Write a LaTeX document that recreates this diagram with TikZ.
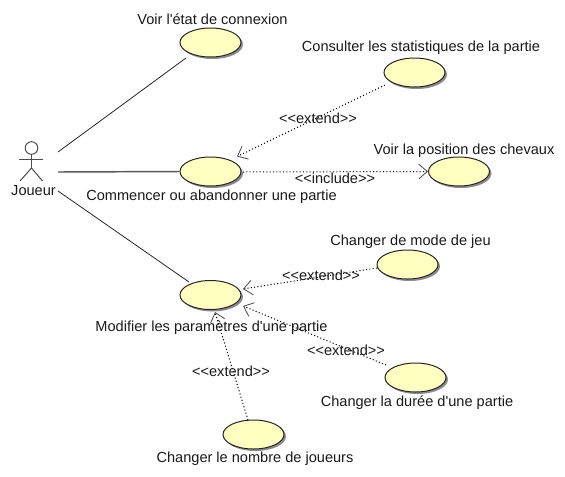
\documentclass[tikz,border=0pt]{standalone}
\usepackage{fontspec}
\setmainfont{Liberation Sans}[Ligatures=TeXOff]
\usetikzlibrary{shapes.geometric,arrows.meta,shadows}
\tikzset{
  usecase/.style={ellipse,draw=black!85,line width=0.75pt,fill=ucfill,inner sep=0pt,
    minimum width=45.75pt,minimum height=21.75pt,
    drop shadow={shadow xshift=1.5pt,shadow yshift=-1.5pt,opacity=0.75,fill=black!60}},
  lbl/.style={anchor=base,inner sep=0pt,font=\fontsize{10.93pt}{12pt}\selectfont,text=black!90},
  assoc/.style={draw=black!85,line width=0.6pt},
  dep/.style={draw=black,line width=0.75pt,dash pattern=on 0.8pt off 1.7pt,
    -{Straight Barb[length=6.5pt,width=11pt,line width=0.6pt,color=black!70]}},
  actorline/.style={draw=black!70,line width=0.75pt},
}
\definecolor{ucfill}{HTML}{FFFFC2}
\begin{document}
\begin{tikzpicture}[x=0.75pt,y=-0.75pt]
\useasboundingbox (0,0) rectangle (565,476);
% actor
\coordinate (actor) at (31.5,165);
\node[circle,draw=black!70,line width=0.75pt,fill=white,minimum size=9.5pt,inner sep=0pt] (head) at (31.5,148) {};
\coordinate (hand1) at (19,159);
\coordinate (hand2) at (43,159);
\coordinate (hip) at (31.5,168);
\coordinate (foot1) at (20,181);
\coordinate (foot2) at (42.5,181);
\draw[actorline] (head) -- (hip);
\draw[actorline] (hand1) -- (hand2);
\draw[actorline] (foot1) -- (hip) -- (foot2);
\node[lbl] (joueur) at (33.5,195) {Joueur};
% use cases
\node[usecase] (etat) at (210.5,42.5) {};
\node[usecase] (stats) at (414.5,72.5) {};
\node[usecase] (partie) at (210.5,171.5) {};
\node[usecase] (position) at (459,171.5) {};
\node[usecase] (param) at (210.5,295) {};
\node[usecase] (mode) at (407.5,264.5) {};
\node[usecase] (duree) at (415.5,377.5) {};
\node[usecase] (nombre) at (253.5,434.5) {};
% case labels
\node[lbl] (tetat) at (212.5,24) {Voir l'état de connexion};
\node[lbl] (tstats) at (421,51) {Consulter les statistiques de la partie};
\node[lbl] (tposition) at (464,154) {Voir la position des chevaux};
\node[lbl] (tpartie) at (211.5,200) {Commencer ou abandonner une partie};
\node[lbl] (tmode) at (410.5,245) {Changer de mode de jeu};
\node[lbl] (tparam) at (211.5,331) {Modifier les paramètres d'une partie};
\node[lbl] (tduree) at (417,406) {Changer la durée d'une partie};
\node[lbl] (tnombre) at (255,462) {Changer le nombre de joueurs};
% associations
\draw[assoc] ([shift={(26.5,-13)}]actor) -- ([shift={(-24.5,15.5)}]etat.center);
\draw[assoc,line width=1.1pt,draw=black!65] ([shift={(26.5,7)}]actor) -- (partie.west);
\draw[assoc] ([shift={(26.5,26)}]actor) -- ([shift={(-21.5,-13)}]param.center);
% dependencies
\draw[dep] ([shift={(-29.5,12.5)}]stats.center) -- ([shift={(26.5,-15)}]partie.center);
\draw[dep] ([shift={(32.5,0.5)}]partie.center) -- (position.west);
\draw[dep] ([shift={(-30.5,3.5)}]mode.center) -- ([shift={(32.5,-6)}]param.center);
\draw[dep] ([shift={(-29.5,-12.5)}]duree.center) -- ([shift={(32.5,11)}]param.center);
\draw[dep] ([shift={(-5.5,-14.5)}]nombre.center) -- ([shift={(4.5,17)}]param.center);
% dependency labels
\node[lbl] (x1) at (318,123) {<<extend>>};
\node[lbl] (x2) at (335,183) {<<include>>};
\node[lbl] (x3) at (321,280) {<<extend>>};
\node[lbl] (x4) at (346,355) {<<extend>>};
\node[lbl] (x5) at (231,376) {<<extend>>};
\end{tikzpicture}
\end{document}
